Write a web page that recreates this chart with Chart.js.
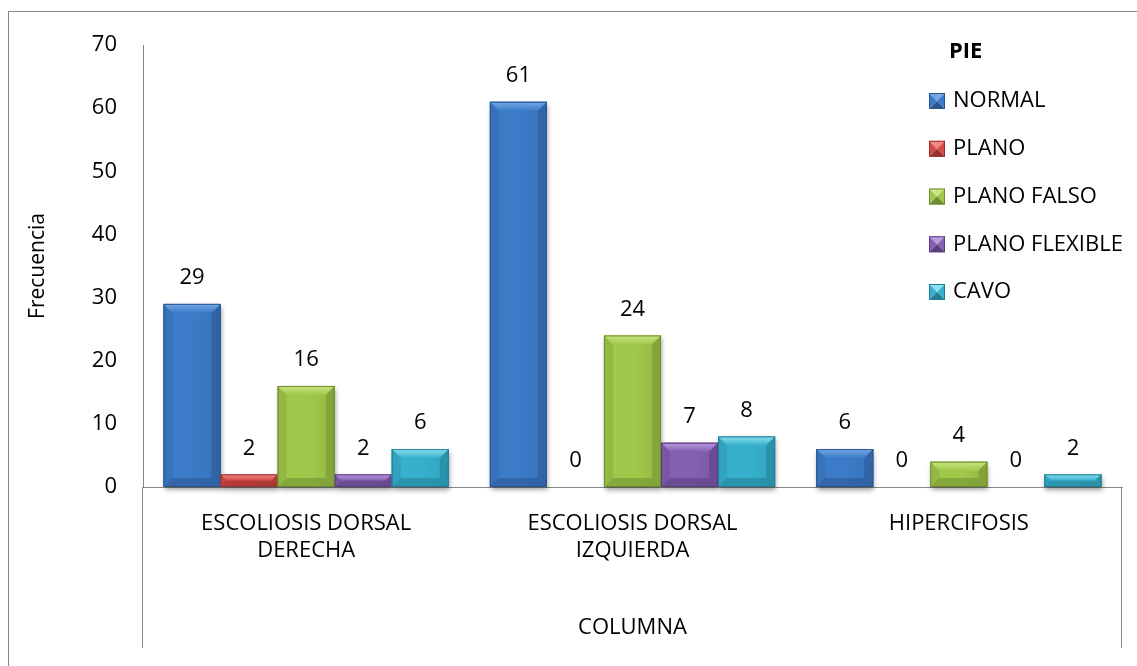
<!DOCTYPE html>
<html>
<head>
<meta charset="utf-8">
<script src="https://cdn.jsdelivr.net/npm/chart.js@4.4.1/dist/chart.umd.min.js"></script>
<style>
  html, body { margin: 0; padding: 0; background: #fff; }
  #wrap { width: 1137px; height: 666px; }
</style>
</head>
<body>
<div id="wrap"><canvas id="barChart" width="1137" height="666"></canvas></div>
<script>
// Columna x pie
const categorias = [['ESCOLIOSIS DORSAL', 'DERECHA'], ['ESCOLIOSIS DORSAL', 'IZQUIERDA'], 'HIPERCIFOSIS'];
const seriesNames = ['NORMAL', 'PLANO', 'PLANO FALSO', 'PLANO FLEXIBLE', 'CAVO'];
const normal = [29, 61, 6];
const plano = [2, 0, 0];
const planoFalso = [16, 24, 4];
const planoFlexible = [2, 7, 0];
const cavo = [6, 8, 2];
const yMin = 0, yMax = 70, yStep = 10;

// face / highlight / shade per series
const colores = [
  { base: '#3c7bc8', light: '#74a9e6', dark: '#2a5690' },
  { base: '#d24b47', light: '#f28985', dark: '#96302e' },
  { base: '#a0c84a', light: '#cbe683', dark: '#6f8d2f' },
  { base: '#8460b0', light: '#b89ae0', dark: '#5a3d7e' },
  { base: '#36b0cc', light: '#88e0f3', dark: '#227d93' }
];

const FONT = "'Open Sans', 'Noto Sans', sans-serif";
Chart.defaults.font.family = FONT;
Chart.defaults.color = '#000';

const valores = [normal, plano, planoFalso, planoFlexible, cavo];

function barBox(bar) {
  const p = bar.getProps(['x', 'y', 'base', 'width'], true);
  return {
    l: p.x - p.width / 2, r: p.x + p.width / 2,
    t: Math.min(p.y, p.base), b: Math.max(p.y, p.base), x: p.x, y: p.y
  };
}

function drawBevel(ctx, box, c, bevel) {
  const { l, r, t, b } = box;
  const h = b - t, w = r - l;
  const bv = Math.min(bevel, h / 2, w / 2);
  // face, slightly darker toward the right
  const g = ctx.createLinearGradient(l, 0, r, 0);
  g.addColorStop(0, c.base);
  g.addColorStop(0.55, c.base);
  g.addColorStop(1, c.dark);
  ctx.fillStyle = c.base;
  ctx.fillRect(l, t, w, h);
  ctx.globalAlpha = 0.25;
  ctx.fillStyle = g;
  ctx.fillRect(l, t, w, h);
  ctx.globalAlpha = 1;
  // top bevel
  const gt = ctx.createLinearGradient(0, t, 0, t + bv);
  gt.addColorStop(0, c.light);
  gt.addColorStop(1, c.base);
  ctx.fillStyle = gt;
  ctx.beginPath();
  ctx.moveTo(l, t); ctx.lineTo(r, t); ctx.lineTo(r - bv, t + bv); ctx.lineTo(l + bv, t + bv);
  ctx.closePath(); ctx.fill();
  // sides and bottom
  ctx.fillStyle = c.dark;
  ctx.globalAlpha = 0.25;
  ctx.beginPath();
  ctx.moveTo(l, t); ctx.lineTo(l + bv, t + bv); ctx.lineTo(l + bv, b - bv); ctx.lineTo(l, b);
  ctx.closePath(); ctx.fill();
  ctx.globalAlpha = 0.5;
  ctx.beginPath();
  ctx.moveTo(r, t); ctx.lineTo(r - bv, t + bv); ctx.lineTo(r - bv, b - bv); ctx.lineTo(r, b);
  ctx.closePath(); ctx.fill();
  ctx.globalAlpha = 0.55;
  ctx.beginPath();
  ctx.moveTo(l, b); ctx.lineTo(l + bv, b - bv); ctx.lineTo(r - bv, b - bv); ctx.lineTo(r, b);
  ctx.closePath(); ctx.fill();
  ctx.globalAlpha = 1;
  ctx.strokeStyle = c.dark;
  ctx.lineWidth = 1;
  ctx.strokeRect(l + 0.5, t + 0.5, w - 1, h - 1);
}

const bevelPlugin = {
  id: 'bevel',
  beforeDatasetsDraw(chart) {
    const ctx = chart.ctx;
    ctx.save();
    chart.data.datasets.forEach((ds, i) => {
      chart.getDatasetMeta(i).data.forEach(bar => {
        const box = barBox(bar);
        if (box.b - box.t < 0.5) return;
        ctx.shadowColor = 'rgba(0,0,0,0.4)';
        ctx.shadowBlur = 5;
        ctx.shadowOffsetY = 3;
        ctx.shadowOffsetX = 1;
        ctx.fillStyle = '#888';
        ctx.fillRect(box.l, box.t, box.r - box.l, box.b - box.t);
      });
    });
    ctx.restore();
  },
  afterDatasetsDraw(chart) {
    const ctx = chart.ctx;
    ctx.save();
    chart.data.datasets.forEach((ds, i) => {
      chart.getDatasetMeta(i).data.forEach(bar => {
        const box = barBox(bar);
        if (box.b - box.t < 0.5) return;
        drawBevel(ctx, box, colores[i], 9);
      });
    });
    // value labels
    ctx.font = '22px ' + FONT;
    ctx.fillStyle = '#000';
    ctx.textAlign = 'center';
    ctx.textBaseline = 'middle';
    chart.data.datasets.forEach((ds, i) => {
      chart.getDatasetMeta(i).data.forEach((bar, j) => {
        const box = barBox(bar);
        ctx.fillText(String(ds.data[j]), box.x, box.t - 26);
      });
    });
    ctx.restore();
  },
  afterDraw(chart) {
    const ctx = chart.ctx;
    const area = chart.chartArea;
    ctx.save();
    ctx.strokeStyle = '#868686';
    ctx.lineWidth = 1;
    // outer frame
    ctx.strokeRect(8.5, 11.5, chart.width + 20, chart.height + 20);
    // category axis extension lines
    ctx.beginPath();
    ctx.moveTo(Math.round(area.left) - 0.5, area.bottom);
    ctx.lineTo(Math.round(area.left) - 0.5, area.bottom + 161);
    ctx.moveTo(Math.round(area.right) - 0.5, area.bottom);
    ctx.lineTo(Math.round(area.right) - 0.5, area.bottom + 161);
    ctx.stroke();

    // legend
    const lx = 929, ly = 101, step = 47.75, sz = 16;
    ctx.fillStyle = '#000';
    ctx.font = 'bold 22px ' + FONT;
    ctx.textAlign = 'left';
    ctx.textBaseline = 'middle';
    ctx.fillText('PIE', 949, 52);
    ctx.font = '22px ' + FONT;
    chart.data.datasets.forEach((ds, i) => {
      const cy = ly + i * step;
      const c = colores[i];
      const l = lx, t = cy - sz / 2, r = lx + sz, b = cy + sz / 2, m = sz / 2;
      // pyramid marker
      ctx.fillStyle = c.light;
      ctx.beginPath(); ctx.moveTo(l, t); ctx.lineTo(r, t); ctx.lineTo(l + m, t + m); ctx.closePath(); ctx.fill();
      ctx.fillStyle = c.base;
      ctx.beginPath(); ctx.moveTo(l, t); ctx.lineTo(l + m, t + m); ctx.lineTo(l, b); ctx.closePath(); ctx.fill();
      ctx.beginPath(); ctx.moveTo(r, t); ctx.lineTo(l + m, t + m); ctx.lineTo(r, b); ctx.closePath(); ctx.fill();
      ctx.fillStyle = c.dark;
      ctx.beginPath(); ctx.moveTo(l, b); ctx.lineTo(l + m, t + m); ctx.lineTo(r, b); ctx.closePath(); ctx.fill();
      ctx.strokeStyle = c.dark;
      ctx.strokeRect(l + 0.5, t + 0.5, sz - 1, sz - 1);
      ctx.fillStyle = '#000';
      ctx.fillText(ds.label, lx + 24, cy);
    });
    ctx.restore();
  }
};

new Chart(document.getElementById('barChart'), {
  type: 'bar',
  data: {
    labels: categorias,
    datasets: seriesNames.map((name, i) => ({
      label: name,
      data: valores[i],
      backgroundColor: colores[i].base,
      borderWidth: 0,
      categoryPercentage: 0.874,
      barPercentage: 1
    }))
  },
  options: {
    responsive: false,
    animation: false,
    layout: { padding: { top: 45, right: 15, left: 0, bottom: 0 } },
    plugins: { legend: { display: false }, tooltip: { enabled: false } },
    scales: {
      x: {
        grid: { display: false, drawTicks: false },
        border: { display: true, color: '#868686', width: 1 },
        ticks: { font: { size: 22 }, padding: 24, color: '#000', maxRotation: 0, autoSkip: false },
        title: { display: true, text: 'COLUMNA', font: { size: 22 }, color: '#000', padding: { top: 0, bottom: 25 } },
        afterFit(scale) { scale.height = 179; }
      },
      y: {
        min: yMin, max: yMax,
        grid: { display: false, drawTicks: false },
        border: { display: true, color: '#868686', width: 1 },
        ticks: { stepSize: yStep, font: { size: 22 }, padding: 26, color: '#000' },
        title: { display: true, text: 'Frecuencia', font: { size: 21 }, color: '#000', padding: { top: 25, bottom: 0 } },
        afterFit(scale) { scale.width = 143; }
      }
    }
  },
  plugins: [bevelPlugin]
});
</script>
</body>
</html>
